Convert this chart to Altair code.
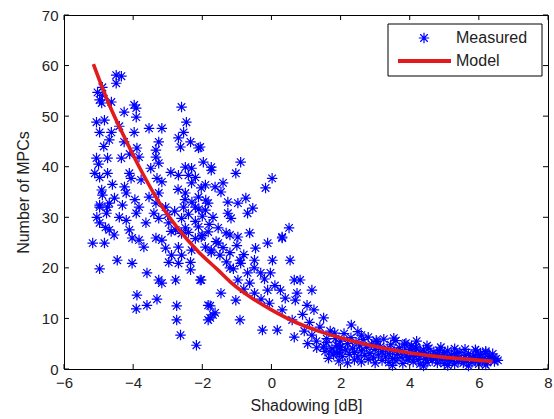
import altair as alt
import pandas as pd

# ---------------- data ----------------
left_cluster = [
    (-4.49, 58.1), (-4.34, 57.9), (-4.49, 56.5), (-4.89, 55.7), (-5.03, 54.7), (-4.89, 54.1),
    (-4.97, 53.2), (-4.63, 52.8), (-4.91, 52.6), (-3.97, 52.2), (-3.91, 51.6), (-4.26, 50.8),
    (-3.91, 49.8), (-5.06, 48.8), (-4.83, 49.2), (-4.63, 46.8), (-4.97, 46.8), (-3.97, 46.8),
    (-4.69, 45.3), (-4.26, 44.9), (-3.89, 43.7), (-3.83, 41.9), (-5.06, 41.7), (-4.74, 41.7),
    (-4.34, 41.7), (-5.11, 38.7), (-4.97, 37.9), (-4.74, 38.7), (-4.11, 38.7), (-4.06, 37.7),
    (-3.77, 37.4), (-4.91, 35.4), (-4.89, 34.4), (-4.54, 33.8), (-4.20, 34.8), (-4.97, 32.4),
    (-4.74, 32.0), (-4.31, 32.4), (-3.83, 32.0), (-4.69, 32.8), (-4.97, 32.0), (-3.91, 30.8),
    (-4.77, 30.8), (-4.40, 30.0), (-4.20, 29.4), (-4.97, 28.9), (-4.69, 27.5), (-4.11, 27.5),
    (-3.63, 28.9), (-4.03, 25.9), (-3.83, 25.5), (-5.17, 24.9), (-4.83, 24.9), (-3.69, 24.1),
    (-4.46, 21.5), (-4.03, 20.9), (-4.97, 19.8), (-3.60, 19.0), (-3.89, 14.6), (-3.60, 12.6),
    (-3.91, 11.9), (-3.54, 47.6), (-3.54, 34.0), (-3.49, 39.7), (-5.00, 40.5), (-4.85, 44.0),
    (-4.60, 36.5), (-4.40, 48.0), (-4.10, 42.5), (-5.05, 30.0), (-4.55, 26.5), (-4.25, 36.0),
    (-3.95, 33.5), (-4.80, 28.0),
]

mid_cluster = [
    (-2.60, 51.8), (-2.46, 48.8), (-3.17, 47.6), (-2.54, 46.8), (-2.69, 45.7), (-3.26, 44.9),
    (-2.34, 44.9), (-3.34, 43.3), (-2.63, 43.9), (-2.11, 43.7), (-3.34, 41.9), (-3.26, 40.7),
    (-2.49, 39.9), (-2.31, 39.7), (-1.74, 39.9), (-2.91, 38.9), (-2.40, 38.3), (-2.20, 37.9),
    (-2.69, 38.3), (-3.31, 37.7), (-3.17, 37.0), (-2.31, 36.8), (-1.91, 36.4), (-1.63, 36.0),
    (-3.26, 34.8), (-2.49, 34.8), (-2.11, 34.0), (-1.83, 32.8), (-3.34, 32.8), (-3.06, 32.0),
    (-2.54, 32.0), (-2.20, 32.0), (-3.40, 30.8), (-3.26, 29.8), (-2.97, 28.9), (-2.77, 27.5),
    (-2.49, 27.9), (-2.11, 28.1), (-1.83, 27.1), (-3.34, 25.9), (-3.17, 25.5), (-3.06, 23.9),
    (-2.69, 24.1), (-2.31, 23.5), (-1.91, 24.1), (-1.74, 23.5), (-2.89, 22.5), (-2.60, 22.5),
    (-2.97, 21.1), (-2.69, 20.9), (-2.34, 21.1), (-2.34, 19.6), (-3.26, 17.6), (-3.17, 17.0),
    (-2.77, 17.6), (-2.06, 17.6), (-3.31, 13.8), (-2.74, 12.5), (-1.77, 12.5), (-1.63, 11.1),
    (-1.77, 10.1), (-2.74, 9.7), (-2.63, 6.7), (-2.17, 4.7),
    (-2.06, 43.9), (-0.89, 40.9), (-1.97, 40.9), (-1.74, 39.3), (-1.03, 38.7), (0.02, 37.7),
    (-0.17, 35.8), (-2.03, 35.8), (-1.40, 36.8), (-1.46, 35.0), (-0.74, 33.8), (-1.26, 33.0),
    (-0.97, 32.8), (-0.54, 31.8), (-0.69, 30.8), (-1.91, 31.4), (-1.69, 30.0), (-1.26, 30.8),
    (-1.17, 29.8), (0.51, 27.9), (0.31, 26.1), (-0.63, 26.9), (-1.54, 27.9), (-1.31, 26.9),
    (-0.97, 26.1),
    (-2.03, 26.1), (-1.54, 24.9), (-1.20, 26.5), (0.31, 25.9), (-0.11, 24.9), (-0.46, 23.9),
    (-1.74, 23.1), (-1.49, 22.5), (-0.91, 21.5), (-0.49, 21.5), (0.03, 21.5), (0.54, 21.5),
    (-1.20, 20.0), (-0.89, 20.9), (-0.69, 19.0), (-0.31, 19.0), (-0.03, 19.0), (-2.03, 17.6),
    (-0.97, 17.6), (-0.63, 17.0), (-1.46, 15.0), (-0.49, 15.0), (-0.11, 15.6), (0.26, 15.6),
    (-1.03, 13.6), (-1.83, 12.6), (-0.06, 13.0), (0.31, 11.7), (-1.69, 10.7), (-1.83, 9.7),
    (-0.91, 9.7), (-0.26, 7.7), (0.17, 7.7),
    (-3.00, 30.5), (-2.80, 31.2), (-2.60, 29.8), (-2.40, 30.6), (-2.20, 29.2), (-2.00, 30.2),
    (-1.80, 28.6), (-2.50, 33.5), (-2.70, 35.5), (-2.30, 33.0), (-2.10, 31.6), (-1.90, 33.4),
    (-2.90, 27.2), (-2.60, 26.8), (-2.40, 27.0), (-2.20, 25.8), (-2.00, 26.4), (-1.60, 25.2),
    (-1.40, 24.0), (-1.20, 23.0), (-1.00, 24.4), (-0.80, 22.6), (-1.30, 21.2), (-1.10, 19.8),
    (-0.50, 20.0), (-0.20, 17.8), (0.10, 16.5), (-0.80, 15.8), (-0.30, 13.8), (0.40, 14.0),
]

right_cluster = [
    (0.66, 17.6), (0.83, 17.6), (0.74, 15.0), (1.17, 15.6), (0.69, 13.6), (1.03, 12.6),
    (1.23, 11.7), (0.60, 9.7), (1.51, 10.1), (1.40, 8.3), (0.66, 6.3), (1.17, 6.7),
    (1.83, 7.1), (1.31, 4.2), (1.51, 4.4), (1.89, 4.7), (1.69, 3.4), (1.97, 3.2),
    (2.31, 8.7), (2.60, 6.7), (3.03, 5.7), (3.54, 6.1), (3.89, 5.1), (4.17, 4.3),
    (1.97, 4.3), (0.90, 10.8), (1.10, 9.2), (0.95, 7.5), (1.30, 5.5), (1.60, 6.0), (1.05, 5.0),
]

tail_band = [
    (1.55, 3.5), (1.60, 5.2), (1.65, 2.1), (1.70, 7.5), (1.75, 4.0), (1.80, 2.8), (1.85, 6.0),
    (1.90, 3.2), (1.95, 1.6), (2.00, 5.5), (2.00, 4.3), (2.05, 2.5), (2.10, 7.0), (2.15, 3.8),
    (2.20, 1.2), (2.20, 5.0), (2.25, 2.9), (2.30, 6.2), (2.35, 4.1), (2.40, 1.8), (2.40, 3.3),
    (2.45, 5.3), (2.50, 2.4), (2.50, 7.4), (2.55, 4.6), (2.60, 1.4), (2.60, 3.6), (2.65, 5.8),
    (2.70, 2.7), (2.75, 4.3), (2.80, 1.9), (2.80, 6.3), (2.85, 3.1), (2.90, 4.9), (2.95, 2.2),
    (3.00, 3.9), (3.00, 1.2), (3.05, 5.4), (3.10, 2.8), (3.15, 4.4), (3.20, 1.7), (3.20, 3.4),
    (3.25, 5.9), (3.30, 2.4), (3.35, 4.0), (3.40, 1.3), (3.40, 3.0), (3.45, 4.8), (3.50, 2.1),
    (3.55, 3.6), (3.60, 5.6), (3.60, 1.6), (3.65, 2.9), (3.70, 4.2), (3.75, 2.3), (3.80, 1.1),
    (3.80, 3.5), (3.85, 4.9), (3.90, 2.6), (3.95, 1.8), (4.00, 3.9), (4.00, 2.2), (4.05, 4.6),
    (4.10, 1.4), (4.10, 3.1), (4.15, 2.5), (4.20, 4.0), (4.25, 1.9), (4.30, 3.3), (4.30, 1.0),
    (4.35, 2.7), (4.40, 3.8), (4.45, 2.0), (4.50, 1.3), (4.50, 3.0), (4.55, 4.1), (4.60, 2.4),
    (4.65, 1.7), (4.70, 3.4), (4.75, 2.1), (4.80, 1.2), (4.80, 2.9), (4.85, 3.7), (4.90, 1.8),
    (4.95, 2.5), (5.00, 3.2), (5.00, 1.1), (5.05, 2.2), (5.10, 3.6), (5.15, 1.6), (5.20, 2.8),
    (5.25, 1.9), (5.30, 3.1), (5.30, 1.0), (5.35, 2.4), (5.40, 1.5), (5.45, 3.3), (5.50, 2.0),
    (5.55, 1.2), (5.60, 2.7), (5.65, 1.7), (5.70, 3.0), (5.75, 2.2), (5.80, 1.3), (5.85, 2.6),
    (5.90, 1.8), (5.95, 3.4), (6.00, 2.3), (6.00, 1.0), (6.05, 2.9), (6.10, 1.6), (6.15, 2.1),
    (6.20, 3.2), (6.25, 1.3), (6.30, 2.5), (6.35, 1.8), (6.40, 2.2), (6.45, 1.5), (6.50, 2.0),
    (6.55, 1.7), (4.20, 5.5), (4.50, 4.6), (4.90, 4.3), (5.30, 4.0), (5.60, 3.9), (5.90, 3.8),
    (6.20, 3.5), (6.40, 3.0), (3.50, 0.7), (4.40, 0.6), (5.10, 0.7), (5.70, 0.6), (6.20, 0.8),
]

model_x = [-5.15, -4.70, -4.20, -3.75, -3.25, -2.75, -2.10, -1.55, -1.15, -0.60,
           0.00, 0.75, 1.50, 2.20, 2.85, 3.80, 4.75, 5.90, 6.40]
model_y = [60.3, 52.4, 45.1, 39.0, 33.0, 28.2, 23.1, 19.6, 17.0, 14.2,
           11.7, 9.1, 7.2, 5.8, 4.7, 3.4, 2.5, 1.8, 1.5]

x_ticks = [-6, -4, -2, 0, 2, 4, 6, 8]
y_ticks = [0, 10, 20, 30, 40, 50, 60, 70]
legend_labels = ["Measured", "Model"]

# ---------------- chart ----------------
W, H = 484, 354
FONT = "Liberation Sans"
BLUE = "#0000ff"
RED = "#e31a1c"
ASTERISK = "M -1 0 L 1 0 M 0 -1 L 0 1 M -0.72 -0.72 L 0.72 0.72 M -0.72 0.72 L 0.72 -0.72"

pts = left_cluster + mid_cluster + right_cluster + tail_band
df = pd.DataFrame(pts, columns=["x", "y"])
model_df = pd.DataFrame({"x": model_x, "y": model_y})

xs = alt.Scale(domain=[-6, 8], nice=False, zero=False)
ys = alt.Scale(domain=[0, 70], nice=False, zero=False)

x_axis = alt.Axis(values=x_ticks, title="Shadowing [dB]", grid=False, ticks=False,
                  domain=False, labelPadding=6, titlePadding=7, format="d",
                  labelFlush=False, labelOverlap=False)
y_axis = alt.Axis(values=y_ticks, title="Number of MPCs", grid=False, ticks=False,
                  domain=False, labelPadding=6, titlePadding=10, format="d",
                  labelFlush=False, labelOverlap=False)

scatter = alt.Chart(df).mark_point(
    shape=ASTERISK, filled=False, color=BLUE, size=110, strokeWidth=1.2, opacity=1
).encode(
    x=alt.X("x:Q", scale=xs, axis=x_axis),
    y=alt.Y("y:Q", scale=ys, axis=y_axis),
)

model = alt.Chart(model_df).mark_line(
    color=RED, strokeWidth=3.6, interpolate="monotone"
).encode(
    x=alt.X("x:Q", scale=xs),
    y=alt.Y("y:Q", scale=ys),
)

xt = pd.DataFrame({"t": x_ticks})
yt = pd.DataFrame({"t": y_ticks})
tick_x_bottom = alt.Chart(xt).mark_rule(color="black", strokeWidth=1).encode(
    x=alt.X("t:Q", scale=xs), y=alt.value(H), y2=alt.value(H - 5))
tick_x_top = alt.Chart(xt).mark_rule(color="black", strokeWidth=1).encode(
    x=alt.X("t:Q", scale=xs), y=alt.value(0), y2=alt.value(5))
tick_y_left = alt.Chart(yt).mark_rule(color="black", strokeWidth=1).encode(
    y=alt.Y("t:Q", scale=ys), x=alt.value(0), x2=alt.value(5))
tick_y_right = alt.Chart(yt).mark_rule(color="black", strokeWidth=1).encode(
    y=alt.Y("t:Q", scale=ys), x=alt.value(W), x2=alt.value(W - 5))

one = pd.DataFrame({"a": [0]})
leg_box = alt.Chart(one).mark_rect(fill="white", stroke="black", strokeWidth=1).encode(
    x=alt.value(324), x2=alt.value(478), y=alt.value(9), y2=alt.value(61))
leg_sym = alt.Chart(one).mark_point(
    shape=ASTERISK, filled=False, color=BLUE, size=110, strokeWidth=1.2, opacity=1
).encode(x=alt.value(360), y=alt.value(23))
leg_line = alt.Chart(one).mark_rule(color=RED, strokeWidth=4).encode(
    x=alt.value(334), x2=alt.value(387), y=alt.value(46))
leg_text = alt.Chart(pd.DataFrame({"label": legend_labels, "row": [23, 46]})).mark_text(
    align="left", baseline="middle", font=FONT, fontSize=16, color="#222"
).encode(x=alt.value(392), y=alt.Y("row:Q", scale=None), text="label:N")

chart = alt.layer(
    scatter, model, tick_x_bottom, tick_x_top, tick_y_left, tick_y_right,
    leg_box, leg_sym, leg_line, leg_text
).properties(
    width=W, height=H,
    autosize=alt.AutoSizeParams(type="none"),
    padding={"left": 64, "top": 15, "right": 6, "bottom": 50},
    background="white",
).configure_view(
    stroke="black", strokeWidth=1
).configure_axis(
    labelFont=FONT, titleFont=FONT, labelFontSize=15, titleFontSize=16,
    titleFontWeight="normal", labelColor="#222", titleColor="#222"
)

chart.save("out.html", embed_options={"renderer": "svg", "actions": False})
